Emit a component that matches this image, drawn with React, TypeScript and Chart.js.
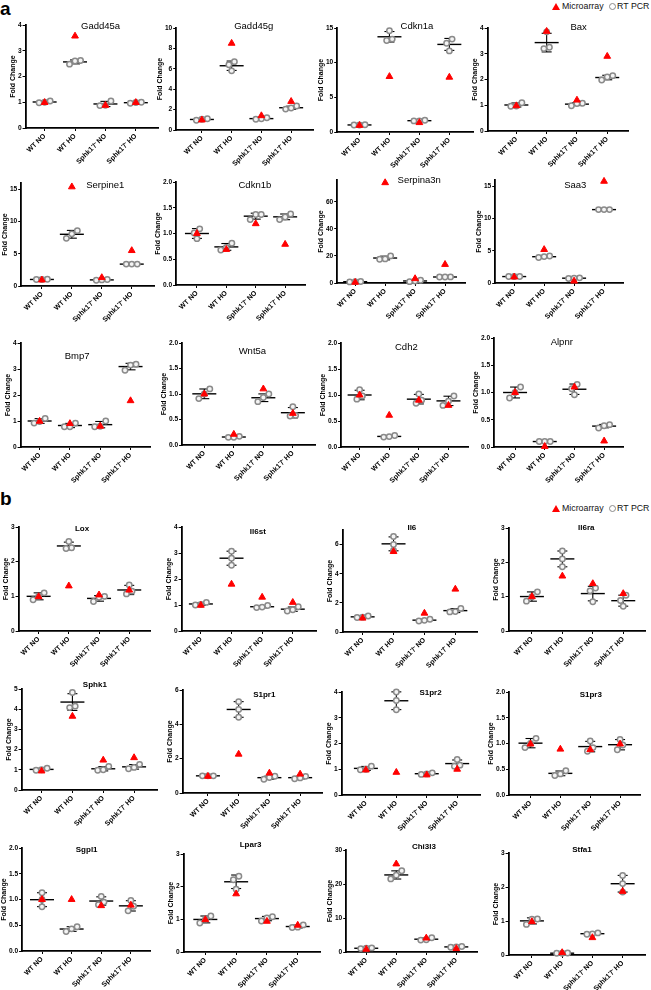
import React, { useEffect, useRef } from 'react';
import { Chart, registerables } from 'chart.js';

Chart.register(...registerables);

const FAMILY = '"Liberation Sans", Arial, Helvetica, sans-serif';

const CATEGORIES = ['WT NO', 'WT HO', 'Sphk1\u207B/\u207B NO', 'Sphk1\u207B/\u207B HO'];

// ---------- Data: RT PCR replicates (per group) and microarray fold change ----------
const GADD45A_PCR = [[1.05, 0.98, 1.0], [2.62, 2.48, 2.6], [1.05, 0.87, 0.88], [1.0, 0.99, 0.96]];
const GADD45A_MA = [0.99, 3.57, 0.88, 0.99];
const GADD45G_PCR = [[1.1, 1.05, 0.95], [6.7, 6.4, 5.8], [1.2, 1.1, 1.05], [2.35, 2.05, 2.15]];
const GADD45G_MA = [0.98, 8.5, 1.4, 2.8];
const CDKN1A_PCR = [[1.0, 1.05, 1.0], [14.6, 13.2, 13.4], [1.7, 1.6, 1.6], [13.4, 12.8, 11.7]];
const CDKN1A_MA = [0.95, 8.0, 1.35, 7.9];
const BAX_PCR = [[1.1, 0.97, 0.96], [3.85, 3.25, 3.2], [1.08, 0.98, 1.07], [2.15, 1.98, 2.1]];
const BAX_MA = [0.98, 3.87, 1.2, 2.9];
const SERPINE1_PCR = [[1.05, 1.0, 1.0], [8.6, 8.1, 7.4], [1.0, 0.95, 0.9], [3.4, 3.4, 3.4]];
const SERPINE1_MA = [0.93, 15.4, 1.3, 5.5];
const CDKN1B_PCR = [[1.09, 1.01, 0.9], [0.81, 0.73, 0.68], [1.37, 1.37, 1.27], [1.38, 1.27, 1.32]];
const CDKN1B_MA = [1.0, 0.69, 1.19, 0.79];
const SERPINA3N_PCR = [[1.0, 0.8, 1.1], [20.0, 17.5, 17.8], [2.0, 1.5, 1.0], [4.5, 4.4, 4.4]];
const SERPINA3N_MA = [0.5, 74, 3.2, 13.7];
const SAA3_PCR = [[1.0, 1.0, 1.0], [4.2, 3.95, 4.1], [0.8, 0.7, 0.75], [11.4, 11.4, 11.4]];
const SAA3_MA = [0.93, 5.2, 0.3, 15.8];
const BMP7_PCR = [[1.1, 0.92, 0.98], [0.92, 0.78, 0.78], [1.0, 0.78, 0.8], [3.18, 3.15, 2.95]];
const BMP7_MA = [0.99, 0.9, 0.8, 1.78];
const WNT5A_PCR = [[1.1, 0.91, 1.0], [0.17, 0.15, 0.15], [1.0, 0.85, 0.93], [0.75, 0.57, 0.58]];
const WNT5A_MA = [1.0, 0.21, 1.1, 0.62];
const CDH2_PCR = [[1.1, 0.92, 0.98], [0.22, 0.19, 0.2], [1.02, 0.84, 0.9], [0.98, 0.88, 0.8]];
const CDH2_MA = [1.0, 0.61, 0.9, 0.8];
const ALPNR_PCR = [[1.1, 0.9, 1.0], [0.1, 0.1, 0.1], [1.15, 0.96, 1.07], [0.41, 0.35, 0.39]];
const ALPNR_MA = [1.0, 0.01, 1.1, 0.11];

const LOX_PCR = [[1.1, 0.9, 1.0], [2.58, 2.4, 2.38], [1.0, 0.85, 0.97], [1.33, 1.07, 1.15]];
const LOX_MA = [0.99, 1.3, 1.04, 1.18];
const IL6ST_PCR = [[1.1, 1.02, 1.0], [3.07, 2.8, 2.53], [0.98, 0.9, 0.92], [0.93, 0.77, 0.82]];
const IL6ST_MA = [0.99, 1.8, 1.3, 1.1];
const IL6_PCR = [[1.1, 1.0, 1.02], [6.55, 6.0, 5.6], [0.88, 0.76, 0.8], [1.62, 1.4, 1.38]];
const IL6_MA = [0.95, 5.52, 1.29, 2.94];
const IL6RA_PCR = [[1.14, 0.87, 1.0], [2.33, 2.1, 1.87], [1.25, 1.17, 0.85], [1.04, 0.89, 0.72]];
const IL6RA_MA = [1.0, 1.6, 1.38, 1.09];
const SPHK1_PCR = [[1.08, 0.98, 1.0], [4.83, 4.15, 4.08], [1.17, 0.98, 1.0], [1.27, 1.05, 1.12]];
const SPHK1_MA = [0.94, 3.65, 1.48, 1.6];
const S1PR1_PCR = [[1.0, 1.0, 1.0], [5.32, 4.87, 4.41], [0.98, 0.8, 0.9], [0.97, 0.83, 0.88]];
const S1PR1_MA = [0.97, 2.26, 1.16, 1.1];
const S1PR2_PCR = [[1.12, 0.98, 1.0], [4.0, 3.67, 3.31], [0.86, 0.82, 0.8], [1.38, 1.12, 1.16]];
const S1PR2_MA = [0.97, 0.88, 0.78, 1.0];
const S1PR3_PCR = [[1.1, 0.92, 1.0], [0.47, 0.38, 0.41], [1.05, 0.85, 0.92], [1.08, 0.88, 0.97]];
const S1PR3_MA = [0.99, 0.89, 0.88, 0.99];
const SGPL1_PCR = [[1.13, 0.86, 1.0], [0.47, 0.38, 0.43], [1.06, 0.9, 0.95], [0.98, 0.78, 0.87]];
const SGPL1_MA = [1.0, 1.0, 0.88, 0.89];
const LPAR3_PCR = [[1.1, 0.89, 1.0], [2.32, 2.21, 1.92], [1.08, 1.04, 0.95], [0.83, 0.75, 0.76]];
const LPAR3_MA = [0.99, 1.78, 0.94, 0.82];
const CHI3L3_PCR = [[1.2, 1.0, 1.1], [23.9, 22.6, 21.5], [4.2, 3.5, 3.6], [1.6, 1.4, 1.5]];
const CHI3L3_MA = [0.8, 25.9, 4.1, 1.0];
const STFA1_PCR = [[1.06, 0.9, 1.05], [0.06, 0.05, 0.05], [0.65, 0.61, 0.62], [2.34, 2.1, 1.85]];
const STFA1_MA = [0.98, 0.07, 0.51, 1.87];

// y tick sets
const TICKS_0_4 = [0, 1, 2, 3, 4];
const TICKS_0_3 = [0, 1, 2, 3];
const TICKS_0_5 = [0, 1, 2, 3, 4, 5];
const TICKS_0_10 = [0, 2, 4, 6, 8, 10];
const TICKS_0_15 = [0, 5, 10, 15];
const TICKS_0_2 = [0, 0.5, 1.0, 1.5, 2.0];
const TICKS_0_60 = [0, 20, 40, 60];
const TICKS_0_6 = [0, 2, 4, 6];
const TICKS_0_30 = [0, 10, 20, 30];

type PanelDef = {
  title: string; section: 'a' | 'b'; pcr: number[][]; ma: number[];
  yMax: number; yTicks: number[]; dec: number;
};

const PANELS: PanelDef[] = [
  { title: 'Gadd45a', section: 'a', pcr: GADD45A_PCR, ma: GADD45A_MA, yMax: 4, yTicks: TICKS_0_4, dec: 0 },
  { title: 'Gadd45g', section: 'a', pcr: GADD45G_PCR, ma: GADD45G_MA, yMax: 10, yTicks: TICKS_0_10, dec: 0 },
  { title: 'Cdkn1a', section: 'a', pcr: CDKN1A_PCR, ma: CDKN1A_MA, yMax: 15, yTicks: TICKS_0_15, dec: 0 },
  { title: 'Bax', section: 'a', pcr: BAX_PCR, ma: BAX_MA, yMax: 4, yTicks: TICKS_0_4, dec: 0 },
  { title: 'Serpine1', section: 'a', pcr: SERPINE1_PCR, ma: SERPINE1_MA, yMax: 16, yTicks: TICKS_0_15, dec: 0 },
  { title: 'Cdkn1b', section: 'a', pcr: CDKN1B_PCR, ma: CDKN1B_MA, yMax: 2, yTicks: TICKS_0_2, dec: 1 },
  { title: 'Serpina3n', section: 'a', pcr: SERPINA3N_PCR, ma: SERPINA3N_MA, yMax: 76, yTicks: TICKS_0_60, dec: 0 },
  { title: 'Saa3', section: 'a', pcr: SAA3_PCR, ma: SAA3_MA, yMax: 16, yTicks: TICKS_0_15, dec: 0 },
  { title: 'Bmp7', section: 'a', pcr: BMP7_PCR, ma: BMP7_MA, yMax: 4, yTicks: TICKS_0_4, dec: 0 },
  { title: 'Wnt5a', section: 'a', pcr: WNT5A_PCR, ma: WNT5A_MA, yMax: 2, yTicks: TICKS_0_2, dec: 1 },
  { title: 'Cdh2', section: 'a', pcr: CDH2_PCR, ma: CDH2_MA, yMax: 2, yTicks: TICKS_0_2, dec: 1 },
  { title: 'Alpnr', section: 'a', pcr: ALPNR_PCR, ma: ALPNR_MA, yMax: 2, yTicks: TICKS_0_2, dec: 1 },
  { title: 'Lox', section: 'b', pcr: LOX_PCR, ma: LOX_MA, yMax: 3, yTicks: TICKS_0_3, dec: 0 },
  { title: 'Il6st', section: 'b', pcr: IL6ST_PCR, ma: IL6ST_MA, yMax: 4, yTicks: TICKS_0_4, dec: 0 },
  { title: 'Il6', section: 'b', pcr: IL6_PCR, ma: IL6_MA, yMax: 7, yTicks: TICKS_0_6, dec: 0 },
  { title: 'Il6ra', section: 'b', pcr: IL6RA_PCR, ma: IL6RA_MA, yMax: 3, yTicks: TICKS_0_3, dec: 0 },
  { title: 'Sphk1', section: 'b', pcr: SPHK1_PCR, ma: SPHK1_MA, yMax: 5, yTicks: TICKS_0_5, dec: 0 },
  { title: 'S1pr1', section: 'b', pcr: S1PR1_PCR, ma: S1PR1_MA, yMax: 6, yTicks: TICKS_0_6, dec: 0 },
  { title: 'S1pr2', section: 'b', pcr: S1PR2_PCR, ma: S1PR2_MA, yMax: 4, yTicks: TICKS_0_4, dec: 0 },
  { title: 'S1pr3', section: 'b', pcr: S1PR3_PCR, ma: S1PR3_MA, yMax: 2, yTicks: TICKS_0_2, dec: 1 },
  { title: 'Sgpl1', section: 'b', pcr: SGPL1_PCR, ma: SGPL1_MA, yMax: 2, yTicks: TICKS_0_2, dec: 1 },
  { title: 'Lpar3', section: 'b', pcr: LPAR3_PCR, ma: LPAR3_MA, yMax: 3, yTicks: TICKS_0_3, dec: 0 },
  { title: 'Chi3l3', section: 'b', pcr: CHI3L3_PCR, ma: CHI3L3_MA, yMax: 30, yTicks: TICKS_0_30, dec: 0 },
  { title: 'Stfa1', section: 'b', pcr: STFA1_PCR, ma: STFA1_MA, yMax: 3, yTicks: TICKS_0_3, dec: 0 },
];

// ---------- Layout (page pixels): axis x, plot top, plot bottom, plot right, first category x, category spacing, title x, title y ----------
const LAYOUT: number[][] = [
  [26, 25, 128, 158, 45, 30.3, 101, 26],
  [176, 28, 130, 313, 201.7, 29.8, 253.5, 26],
  [337, 28, 131.5, 473, 359.3, 30, 416.7, 26.7],
  [488, 28, 131, 628, 516.7, 30.2, 579, 27],
  [21, 183, 286, 154, 41.7, 30, 105, 185.7],
  [176.5, 182, 285, 305, 197.3, 29.3, 255.3, 185.7],
  [337, 180, 283, 465, 355, 30, 419, 180],
  [495, 180, 283, 623, 514, 30, 575, 185],
  [21, 343, 446.7, 150, 40, 30.2, 77.5, 356.7],
  [181.7, 343, 445, 315, 204, 29.6, 252, 351],
  [340.7, 343, 446.7, 468, 359.3, 29.7, 406, 347.5],
  [494, 338, 446.7, 623, 515, 29.7, 561.7, 342.5],
  [19, 527, 631, 150, 39, 30.1, 82.5, 528.3],
  [181.7, 527, 630.7, 316, 201, 30.6, 258, 531.7],
  [342.7, 530, 632.3, 476.7, 362.7, 30.8, 412, 527.7],
  [508.3, 528.3, 631.7, 645, 531.7, 30.5, 586, 528.3],
  [21.7, 689.3, 790.7, 157, 41.7, 30.8, 95, 685],
  [182.3, 690, 793.3, 322, 207.7, 30.8, 264, 695],
  [341.7, 692.3, 795, 480, 366, 30.4, 430.7, 693.3],
  [509.3, 692.3, 795, 640, 530.7, 29.8, 591, 695],
  [21.7, 848.3, 951.7, 150, 41.7, 29.7, 86.3, 850],
  [184, 854.3, 952.3, 320, 205.7, 30.7, 251, 845],
  [346, 850, 951.7, 476.7, 366, 30, 423.7, 846.7],
  [508.3, 853.3, 955, 645, 531.7, 30.3, 581.7, 850],
];

const PAD_L = 2;
const PAD_T = 16;
const PAD_R = 6;
const X_AXIS_H = 48;
const TICK_FONT_SIZE = 7;
const YTICK_FONT_SIZE = 6.6;
const TICK_LEN = 3;
const TICK_PAD = 1;
const TITLE_PAD_BOTTOM = 0.5;
const DOT_D = 5.5;

let measureCtx: CanvasRenderingContext2D | null = null;
function textWidth(text: string, font: string) {
  if (!measureCtx) measureCtx = document.createElement('canvas').getContext('2d');
  measureCtx!.font = font;
  return measureCtx!.measureText(text).width;
}

function swarmOffsets(vals: number[], pxPerY: number, sp: number) {
  const idx = vals.map((_, i) => i).sort((a, b) => vals[a] - vals[b]);
  const clusters: number[][] = [];
  idx.forEach((i, k) => {
    if (k > 0 && (vals[i] - vals[idx[k - 1]]) * pxPerY < DOT_D) clusters[clusters.length - 1].push(i);
    else clusters.push([i]);
  });
  const off = new Array(vals.length).fill(0);
  const step = DOT_D / sp;
  clusters.forEach((c) => c.forEach((i, k) => { off[i] = (k - (c.length - 1) / 2) * step; }));
  return off;
}

function meanSd(v: number[]) {
  const m = v.reduce((a, b) => a + b, 0) / v.length;
  const sd = Math.sqrt(v.reduce((a, b) => a + (b - m) * (b - m), 0) / (v.length - 1));
  return { m, sd };
}

function Panel({ p, lay }: { p: PanelDef; lay: number[] }) {
  const ref = useRef<HTMLCanvasElement>(null);
  const [ax, top, bot, right, c0, sp, tx, ty] = lay;
  const yTickFont = `bold ${YTICK_FONT_SIZE}px ${FAMILY}`;
  const labelW = Math.max(...p.yTicks.map((t) => textWidth(t.toFixed(p.dec), yTickFont)));
  const W = TICK_LEN + TICK_PAD + labelW + TICK_FONT_SIZE * 1.2 + TITLE_PAD_BOTTOM;
  const plotW = right - ax;
  const plotH = bot - top;
  const width = Math.round(PAD_L + W + plotW + PAD_R);
  const height = Math.round(PAD_T + plotH + X_AXIS_H);
  const left = ax - PAD_L - W;
  const topPx = top - PAD_T;
  const xMin = -(c0 - ax) / sp;
  const xMax = xMin + plotW / sp;

  useEffect(() => {
    const pxPerY = plotH / p.yMax;
    const pcrPoints: { x: number; y: number }[] = [];
    p.pcr.forEach((vals, g) => {
      const off = swarmOffsets(vals, pxPerY, sp);
      vals.forEach((v, k) => pcrPoints.push({ x: g + off[k], y: v }));
    });
    const stats = p.pcr.map(meanSd);

    const deco = {
      id: 'deco',
      beforeDatasetsDraw(chart: any) {
        const { ctx } = chart;
        const xs = chart.scales.x;
        const ys = chart.scales.y;
        ctx.save();
        ctx.strokeStyle = '#000';
        const seg = (x1: number, y1: number, x2: number, y2: number) => {
          ctx.beginPath(); ctx.moveTo(x1, y1); ctx.lineTo(x2, y2); ctx.stroke();
        };
        stats.forEach((s, g) => {
          const cx = xs.getPixelForValue(g);
          const ym = ys.getPixelForValue(s.m);
          const yt = ys.getPixelForValue(s.m + s.sd);
          const yb = ys.getPixelForValue(s.m - s.sd);
          ctx.lineWidth = 1.4;
          seg(cx - 12, ym, cx + 12, ym);
          ctx.lineWidth = 1.1;
          seg(cx, yt, cx, yb);
          seg(cx - 5, yt, cx + 5, yt);
          seg(cx - 5, yb, cx + 5, yb);
        });
        ctx.restore();
      },
      afterDraw(chart: any) {
        const { ctx } = chart;
        ctx.save();
        ctx.fillStyle = '#000';
        ctx.font = p.section === 'a' ? `9.5px ${FAMILY}` : `bold 8px ${FAMILY}`;
        ctx.textAlign = 'center';
        ctx.textBaseline = 'middle';
        ctx.fillText(p.title, tx - left, ty - topPx);
        ctx.restore();
      },
    };

    const chart = new Chart(ref.current!, {
      type: 'scatter',
      data: {
        datasets: [
          {
            label: 'Microarray',
            data: p.ma.map((v, g) => ({ x: g, y: v })),
            pointStyle: 'triangle',
            pointRadius: 3.9,
            pointHoverRadius: 3.9,
            backgroundColor: '#ff0000',
            borderColor: '#ff0000',
            borderWidth: 1,
            order: 0,
            clip: false as any,
          },
          {
            label: 'RT PCR',
            data: pcrPoints,
            pointStyle: 'circle',
            pointRadius: 2.7,
            pointHoverRadius: 2.7,
            backgroundColor: '#f4f4f4',
            borderColor: '#8a8a8a',
            borderWidth: 1.5,
            order: 1,
            clip: false as any,
          },
        ],
      },
      options: {
        responsive: false,
        maintainAspectRatio: false,
        animation: false,
        events: [],
        layout: { padding: { left: PAD_L, top: PAD_T, right: PAD_R, bottom: 0 } },
        plugins: { legend: { display: false }, tooltip: { enabled: false } },
        scales: {
          x: {
            type: 'linear',
            min: xMin,
            max: xMax,
            afterBuildTicks: (s: any) => { s.ticks = [0, 1, 2, 3].map((v) => ({ value: v })); },
            afterFit: (s: any) => { s.height = X_AXIS_H; },
            ticks: {
              autoSkip: false,
              minRotation: 45,
              maxRotation: 45,
              padding: 1,
              color: '#000',
              font: { family: FAMILY, size: TICK_FONT_SIZE, weight: 'bold' },
              callback: (_v: any, i: number) => CATEGORIES[i],
            },
            grid: { display: true, drawOnChartArea: false, drawTicks: true, tickLength: TICK_LEN, color: '#000', lineWidth: 1 },
            border: { display: true, color: '#000', width: 1.8 },
          },
          y: {
            type: 'linear',
            min: 0,
            max: p.yMax,
            afterBuildTicks: (s: any) => { s.ticks = p.yTicks.map((v) => ({ value: v })); },
            afterFit: (s: any) => { s.width = W; },
            ticks: {
              padding: TICK_PAD,
              color: '#000',
              font: { family: FAMILY, size: YTICK_FONT_SIZE, weight: 'bold' },
              callback: (v: any) => Number(v).toFixed(p.dec),
            },
            grid: { display: true, drawOnChartArea: false, drawTicks: true, tickLength: TICK_LEN, color: '#000', lineWidth: 1 },
            border: { display: true, color: '#000', width: 1.8 },
            title: {
              display: true,
              text: 'Fold Change',
              color: '#000',
              font: { family: FAMILY, size: TICK_FONT_SIZE, weight: 'bold' },
              padding: { top: 0, bottom: TITLE_PAD_BOTTOM },
            },
          },
        },
      } as any,
      plugins: [deco],
    } as any);
    return () => chart.destroy();
  }, []);

  return (
    <canvas
      ref={ref}
      width={width}
      height={height}
      style={{ position: 'absolute', left, top: topPx, width, height }}
    />
  );
}

function Legend({ top }: { top: number }) {
  return (
    <div
      style={{
        position: 'absolute', left: 552, top, display: 'flex', alignItems: 'center',
        font: `8.8px ${FAMILY}`, color: '#111', whiteSpace: 'nowrap', height: 10,
      }}
    >
      <span style={{ width: 0, height: 0, borderLeft: '4px solid transparent', borderRight: '4px solid transparent', borderBottom: '7px solid #ff0000', marginRight: 2 }} />
      <span>Microarray</span>
      <span style={{ boxSizing: 'border-box', width: 7, height: 7, border: '1.5px solid #8a8a8a', borderRadius: '50%', marginLeft: 5, marginRight: 1.5 }} />
      <span>RT PCR</span>
    </div>
  );
}

export default function App() {
  return (
    <div style={{ position: 'absolute', left: 0, top: 0, width: 651, height: 990, background: '#fff', overflow: 'hidden', fontFamily: FAMILY }}>
      <div style={{ position: 'absolute', left: 0, top: -1, font: `bold 19px/19px ${FAMILY}` }}>a</div>
      <div style={{ position: 'absolute', left: 0, top: 489, font: `bold 19px/19px ${FAMILY}` }}>b</div>
      <Legend top={1} />
      <Legend top={503} />
      {PANELS.map((p, i) => (
        <Panel key={p.title} p={p} lay={LAYOUT[i]} />
      ))}
    </div>
  );
}
